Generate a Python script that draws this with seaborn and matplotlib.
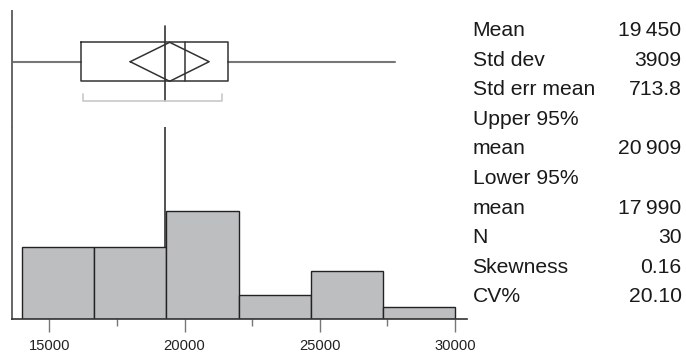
import matplotlib
matplotlib.use("Agg")
import matplotlib.pyplot as plt
import numpy as np
import seaborn as sns

# Histogram bins (edges) and counts per bin
bin_edges = [14000, 16667, 19333, 22000, 24667, 27333, 30000]
bin_counts = [6, 6, 9, 2, 4, 1]

# Outlier box plot summary
whisker_lo = 13610
quartile_1 = 16183
median = 20000
quartile_3 = 21617
whisker_hi = 27780
mean = 19450
ci_lower = 17990
ci_upper = 20909
shortest_half = [16257, 21373]
ref_line = 19266

# Summary statistics table
stat_labels = ["Mean", "Std dev", "Std err mean", "Upper 95%", "mean",
               "Lower 95%", "mean", "N", "Skewness", "CV%"]
stat_values = ["19\u2009450", "3909", "713.8", "", "20\u2009909",
               "", "17\u2009990", "30", "0.16", "20.10"]

major_ticks = [15000, 20000, 25000, 30000]
minor_ticks = [17500, 22500, 27500]

sns.set_style("white")
plt.rcParams["font.family"] = ["Liberation Sans", "DejaVu Sans"]

W, H = 686, 352
fig = plt.figure(figsize=(W / 100, H / 100), dpi=100)

x_lo, x_hi = 13610, 30432
ax_l = 11.7 / W
ax_w = 455.0 / W

# --- histogram panel ---
hist_top, hist_base = 126.7, 319.3
ax_h = fig.add_axes([ax_l, (H - hist_base) / H, ax_w, (hist_base - hist_top) / H])
centers = [(a + b) / 2 for a, b in zip(bin_edges[:-1], bin_edges[1:])]
sns.histplot(x=centers, weights=bin_counts, bins=bin_edges, ax=ax_h,
             color="#bdbec0", edgecolor="#222222", linewidth=1.0, alpha=1.0)
ax_h.set_xlim(x_lo, x_hi)
ax_h.set_ylim(0, (hist_base - hist_top) / 12.0)
ax_h.axvline(ref_line, color="#333333", lw=1.2, zorder=0)
ax_h.set_ylabel("")
ax_h.set_yticks([])
for s in ["top", "right"]:
    ax_h.spines[s].set_visible(False)
ax_h.spines["left"].set_color("#666666")
ax_h.spines["left"].set_linewidth(1.4)
ax_h.spines["bottom"].set_color("#333333")
ax_h.spines["bottom"].set_linewidth(1.2)
ax_h.set_xticks(major_ticks)
ax_h.set_xticklabels([str(t) for t in major_ticks])
ax_h.set_xticks(minor_ticks, minor=True)
ax_h.tick_params(axis="x", which="major", length=9.4, width=1.0, color="#777777",
                 labelsize=10.6, pad=4.8, labelcolor="#222222", bottom=True)
ax_h.tick_params(axis="x", which="minor", length=5, width=1.0, color="#777777",
                 bottom=True)

# --- box plot panel (y in pixel rows, top down) ---
box_top_px = 11.0
ax_b = fig.add_axes([ax_l, (H - hist_top) / H, ax_w, (hist_top - box_top_px) / H])
ax_b.set_xlim(x_lo, x_hi)
ax_b.set_ylim(hist_top, box_top_px)
ax_b.set_xticks([])
ax_b.set_yticks([])
for s in ["top", "right", "bottom"]:
    ax_b.spines[s].set_visible(False)
ax_b.spines["left"].set_color("#666666")
ax_b.spines["left"].set_linewidth(1.4)

yc, yt, yb = 61.7, 42.3, 81.3
# whiskers
ax_b.plot([whisker_lo, quartile_1], [yc, yc], color="#777777", lw=1.5)
ax_b.plot([quartile_3, whisker_hi], [yc, yc], color="#777777", lw=1.5)
# box
ax_b.plot([quartile_1, quartile_3, quartile_3, quartile_1, quartile_1],
          [yt, yt, yb, yb, yt], color="#333333", lw=1.1)
ax_b.plot([median, median], [yt, yb], color="#333333", lw=1.1)
# means diamond
ax_b.plot([ci_lower, mean, ci_upper, mean, ci_lower],
          [yc, yt, yc, yb, yc], color="#333333", lw=1.1)
# reference line
ax_b.plot([ref_line, ref_line], [26, 101], color="#333333", lw=1.2)
# shortest half bracket
ax_b.plot([shortest_half[0], shortest_half[0], shortest_half[1], shortest_half[1]],
          [94.3, 101, 101, 94.3], color="#c8c8c8", lw=1.2)

# --- statistics table ---
for i, (lab, val) in enumerate(zip(stat_labels, stat_values)):
    y_base = 28.7 + 29.6 * i + 7.4
    fig.text(472.5 / W, 1 - y_base / H, lab, ha="left", va="baseline",
             fontsize=15.2, color="#1a1a1a")
    if val:
        fig.text(681.5 / W, 1 - y_base / H, val, ha="right", va="baseline",
                 fontsize=15.2, color="#1a1a1a")

fig.savefig("out.png", dpi=100)
